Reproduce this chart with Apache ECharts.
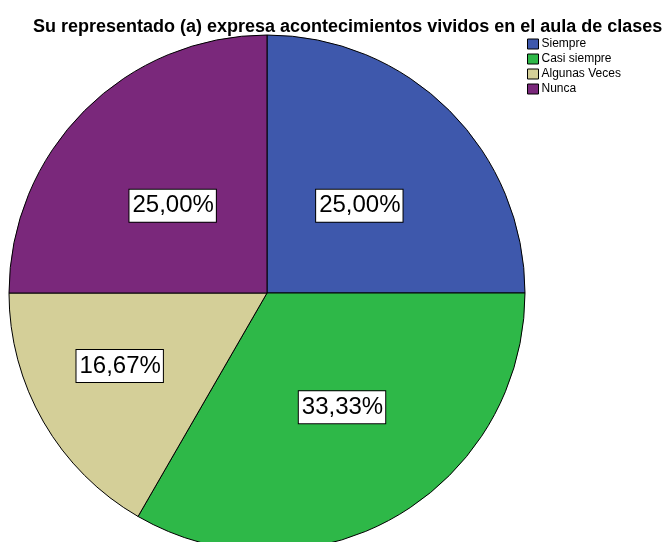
<!DOCTYPE html>
<html>
<head>
<meta charset="utf-8">
<script src="https://cdn.jsdelivr.net/npm/echarts@6/dist/echarts.min.js"></script>
<style>
  html, body { margin: 0; padding: 0; background: #fff; }
  #chart { width: 665px; height: 542px; }
</style>
</head>
<body>
<div id="chart"></div>
<script>
"use strict";
/** Categories and their shares (percent) */
const categories = ["Siempre", "Casi siempre", "Algunas Veces", "Nunca"];
const values = [25.00, 33.33, 16.67, 25.00];

/* ============= styling, kept apart from the data =================== */
const sliceColors = ["#3e58ac", "#2eb848", "#d4cf98", "#7a287b"];
// SPSS does not put every label on the half radius, nudge them a bit
const labelNudge = [[-1, 6], [9, 0], [-33, 7], [-1, 6]];
const baseFont = "Liberation Sans";

let chart = echarts.init(document.getElementById("chart"));

let pieData = categories.map((name, i) => ({
    name: name,
    value: values[i],
    itemStyle: { color: sliceColors[i] },
    label: { offset: labelNudge[i] }
}));

chart.setOption({
    animation: false,
    title: {
        text: "Su representado (a) expresa acontecimientos vividos en el aula de clases",
        left: 28,
        top: 13,
        textStyle: { fontFamily: baseFont, fontSize: 18, fontWeight: "bold", color: "#000" }
    },
    legend: {
        orient: "vertical",
        left: 527,
        top: 38,
        padding: 0,
        itemWidth: 11,
        itemHeight: 10,
        itemGap: 3,
        icon: "rect",
        itemStyle: { borderColor: "#000", borderWidth: 1 },
        textStyle: { fontFamily: baseFont, fontSize: 12, color: "#000", padding: [0, 0, 0, -2] },
        data: categories
    },
    series: [{
        type: "pie",
        center: [267, 293],
        radius: [0, 258],
        startAngle: 90,
        clockwise: true,
        data: pieData,
        itemStyle: { borderColor: "#000", borderWidth: 1 },
        emphasis: { disabled: true },
        label: {
            position: "inside",
            formatter: (p) => p.value.toFixed(2).replace(".", ",") + "%",
            fontFamily: baseFont,
            fontSize: 24,
            color: "#000",
            backgroundColor: "#fff",
            borderColor: "#000",
            borderWidth: 1,
            padding: [5, 2, 3, 3]
        },
        labelLine: { show: false }
    }]
});
</script>
</body>
</html>
